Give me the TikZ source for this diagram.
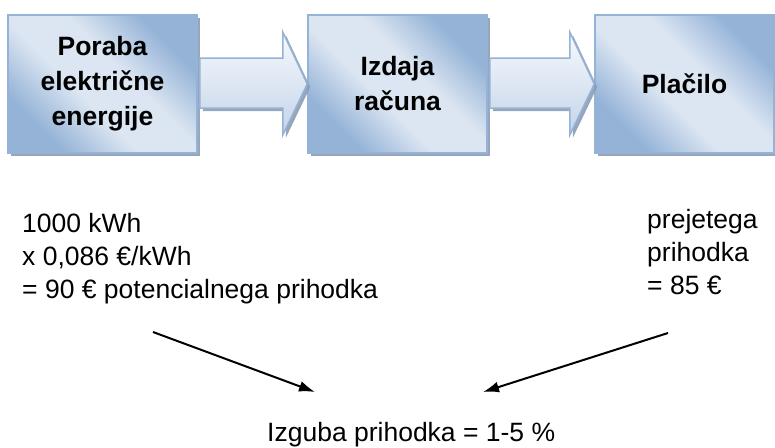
\documentclass[tikz,border=0pt]{standalone}
\usepackage{fontspec}
\setmainfont{Liberation Sans}
\usetikzlibrary{arrows.meta,shadows,calc}
\definecolor{bdark}{HTML}{95B3D7}
\definecolor{blight}{HTML}{DCE6F2}
\definecolor{bshadow}{HTML}{8C9DB4}
\definecolor{atop}{HTML}{F7F9FC}
\definecolor{abot}{HTML}{C4D4EA}
\pgfdeclarehorizontalshading{boxshade}{100bp}{color(0bp)=(bdark); color(27bp)=(bdark); color(43bp)=(blight); color(57bp)=(blight); color(73bp)=(bdark); color(100bp)=(bdark)}
\begin{document}
\begin{tikzpicture}[x=1pt,y=-1pt,
  stepbox/.style={draw=bdark, line width=1.5pt, shading=boxshade, shading angle=45,
    font=\bfseries\fontsize{26.5}{35}\selectfont, align=center, inner sep=0pt,
    minimum height=138pt,
    drop shadow={shadow xshift=3pt, shadow yshift=-3pt, fill=bshadow, opacity=0.9}},
  blockarrow/.style={draw=bdark, line width=1.5pt, top color=atop, bottom color=abot,
    line join=miter,
    drop shadow={shadow xshift=3pt, shadow yshift=-3pt, fill=bshadow, opacity=0.9}},
  lbl/.style={font=\fontsize{26.5}{33}\selectfont, align=left, inner sep=0pt},
  conn/.style={line width=2pt, -{Latex[length=16pt,width=11pt]}}]
\useasboundingbox[fill=white] (0,0) rectangle (775,447);

\node[stepbox, minimum width=189pt] (b1) at (102.5,84) {Poraba\\električne\\energije};
\node[stepbox, minimum width=179pt] (b2) at (397.5,84) {Izdaja\\računa};
\node[stepbox, minimum width=179pt] (b3) at (684.5,84) {Plačilo};

\draw[blockarrow] ($(b1.east)+(2,-26)$) -- ($(b1.east)+(85,-26)$) -- ($(b1.east)+(85,-52)$)
  -- (b2.west) -- ($(b1.east)+(85,51)$) -- ($(b1.east)+(85,24)$) -- ($(b1.east)+(2,24)$) -- cycle;
\draw[blockarrow] ($(b2.east)+(2,-26)$) -- ($(b2.east)+(82,-26)$) -- ($(b2.east)+(82,-52)$)
  -- (b3.west) -- ($(b2.east)+(82,51)$) -- ($(b2.east)+(82,24)$) -- ($(b2.east)+(2,24)$) -- cycle;

\node[lbl, anchor=base west] (t1) at (22,298) {1000 kWh\\x 0,086 €/kWh\\= 90 € potencialnega prihodka};
\node[lbl, anchor=base west] (t2) at (647,294.5) {prejetega\\prihodka\\= 85 €};
\node[lbl, anchor=base west] (t3) at (267,441) {Izguba prihodka = 1-5 \%};

\coordinate (s1) at (153,332);
\coordinate (e1) at (315,392);
\coordinate (s2) at (668,333);
\coordinate (e2) at (483,392);
\draw[conn] (s1) -- (e1);
\draw[conn] (s2) -- (e2);
\end{tikzpicture}
\end{document}
